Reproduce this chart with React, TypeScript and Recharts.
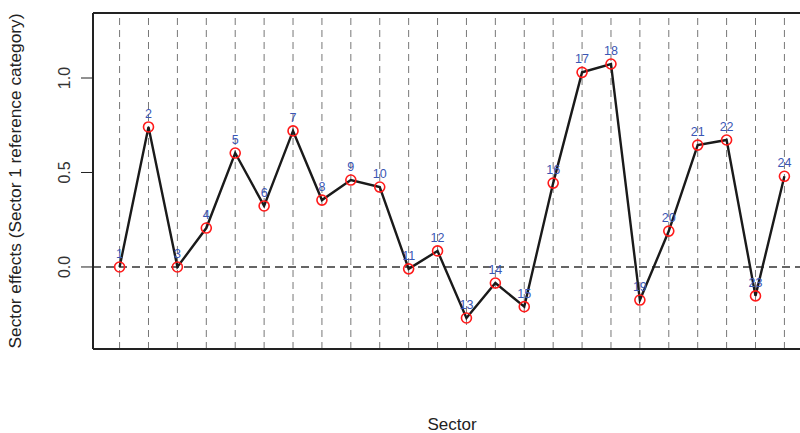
import { ComposedChart, Line, XAxis, YAxis, ReferenceLine, LabelList } from 'recharts'

const sectors = [1, 2, 3, 4, 5, 6, 7, 8, 9, 10, 11, 12, 13, 14, 15, 16, 17, 18, 19, 20, 21, 22, 23, 24]
const effects = [
  0, 0.741, 0, 0.206, 0.603, 0.323, 0.72, 0.354, 0.46, 0.423, -0.01, 0.085,
  -0.27, -0.085, -0.21, 0.444, 1.03, 1.074, -0.175, 0.19, 0.645, 0.672, -0.153, 0.48,
]
const yTicks = [0, 0.5, 1.0]

const data = sectors.map((s, i) => ({ sector: s, effect: effects[i] }))

// eslint-disable-next-line @typescript-eslint/no-explicit-any
function YTick({ x, y, payload }: any) {
  const bx = x - 9
  return (
    <text
      x={bx}
      y={y}
      transform={`rotate(-90 ${bx} ${y})`}
      textAnchor="middle"
      fontSize={16}
      fill="#333"
      fontFamily="Liberation Sans, Arial, sans-serif"
    >
      {Number(payload.value).toFixed(1)}
    </text>
  )
}

// eslint-disable-next-line @typescript-eslint/no-explicit-any
function RedDot({ cx, cy, index }: any) {
  return <circle key={index} cx={cx} cy={cy} r={5} fill="none" stroke="#ff1a1a" strokeWidth={1.6} />
}

export default function App() {
  return (
    <div style={{ position: 'fixed', left: 0, top: 0, width: 800, height: 433, overflow: 'hidden', background: '#fff' }}>
      <ComposedChart
        width={830}
        height={433}
        data={data}
        margin={{ top: 12, right: 19, left: 0, bottom: 0 }}
        style={{ fontFamily: 'Liberation Sans, Arial, sans-serif' }}
      >
        <XAxis
          xAxisId="top"
          orientation="top"
          dataKey="sector"
          type="number"
          domain={[0.08, 24.92]}
          height={1}
          tick={false}
          tickLine={false}
          axisLine={{ stroke: '#222', strokeWidth: 2 }}
        />
        <XAxis
          dataKey="sector"
          type="number"
          domain={[0.08, 24.92]}
          height={84}
          tick={false}
          tickLine={false}
          axisLine={{ stroke: '#222', strokeWidth: 2 }}
          label={{ value: 'Sector', position: 'insideBottom', offset: 3, fontSize: 17, fill: '#222' }}
        />
        <YAxis
          type="number"
          domain={[-0.434, 1.344]}
          ticks={yTicks}
          width={93}
          tickSize={12}
          tick={<YTick />}
          tickLine={{ stroke: '#222' }}
          axisLine={{ stroke: '#222', strokeWidth: 2 }}
          label={{
            value: 'Sector effects (Sector 1 reference category)',
            angle: -90,
            position: 'insideLeft',
            dx: 10,
            dy: 0,
            fontSize: 17.3,
            fill: '#222',
            style: { textAnchor: 'middle' },
          }}
        />
        {sectors.map((s) => (
          <ReferenceLine key={s} x={s} stroke="#777" strokeDasharray="7 5" strokeWidth={1} />
        ))}
        <ReferenceLine y={0} stroke="#333" strokeDasharray="8 5" strokeWidth={1.3} />
        <Line
          dataKey="effect"
          stroke="#1a1a1a"
          strokeWidth={2.4}
          dot={<RedDot />}
          activeDot={false}
          isAnimationActive={false}
        >
          <LabelList dataKey="sector" position="top" offset={9} fontSize={12.5} fill="#3a56b4" />
        </Line>
      </ComposedChart>
    </div>
  )
}
